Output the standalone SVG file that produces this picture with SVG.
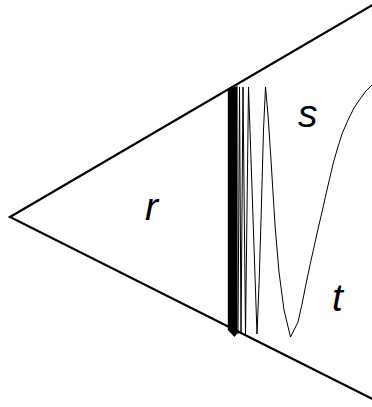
<svg xmlns="http://www.w3.org/2000/svg" width="372" height="407" viewBox="0 0 372 407">
<style>
.edge{fill:none;stroke:#000;stroke-width:2.2;stroke-linecap:round;stroke-linejoin:miter}
.curve{fill:none;stroke:#000;stroke-width:1;stroke-linejoin:miter;stroke-miterlimit:30}
.lbl{font-family:"Liberation Sans",Arial,sans-serif;font-style:italic;font-size:39px;fill:#000}
</style>
<rect width="372" height="407" fill="#fff"/>
<g id="wedge">
<polyline class="edge" points="376,2.9 10,217 376,400.7"/>
</g>
<g id="oscillation">
<polygon points="227.8,89 237.6,86 237.6,333 234.5,337 227.8,330" fill="#000"/>
<polyline class="curve" points="374,83 372,85 366,91 360,99 354,108 348,120 342,134 337,150 333,164 330,177 326,194 322,212 318,229 314,247 310,265 306,284 302,304 298,322 290.5,337 284,310 279,272 275,225 271,160 268,115 265.5,87 263.5,130 261.3,210 259.2,280 257,334 248.5,87 245.5,334 243,87 241,334 239.5,87 238,334"/>
</g>
<g id="labels">
<text class="lbl" x="145" y="220">r</text>
<text class="lbl" x="298" y="127">s</text>
<text class="lbl" x="332" y="311">t</text>
</g>
</svg>
